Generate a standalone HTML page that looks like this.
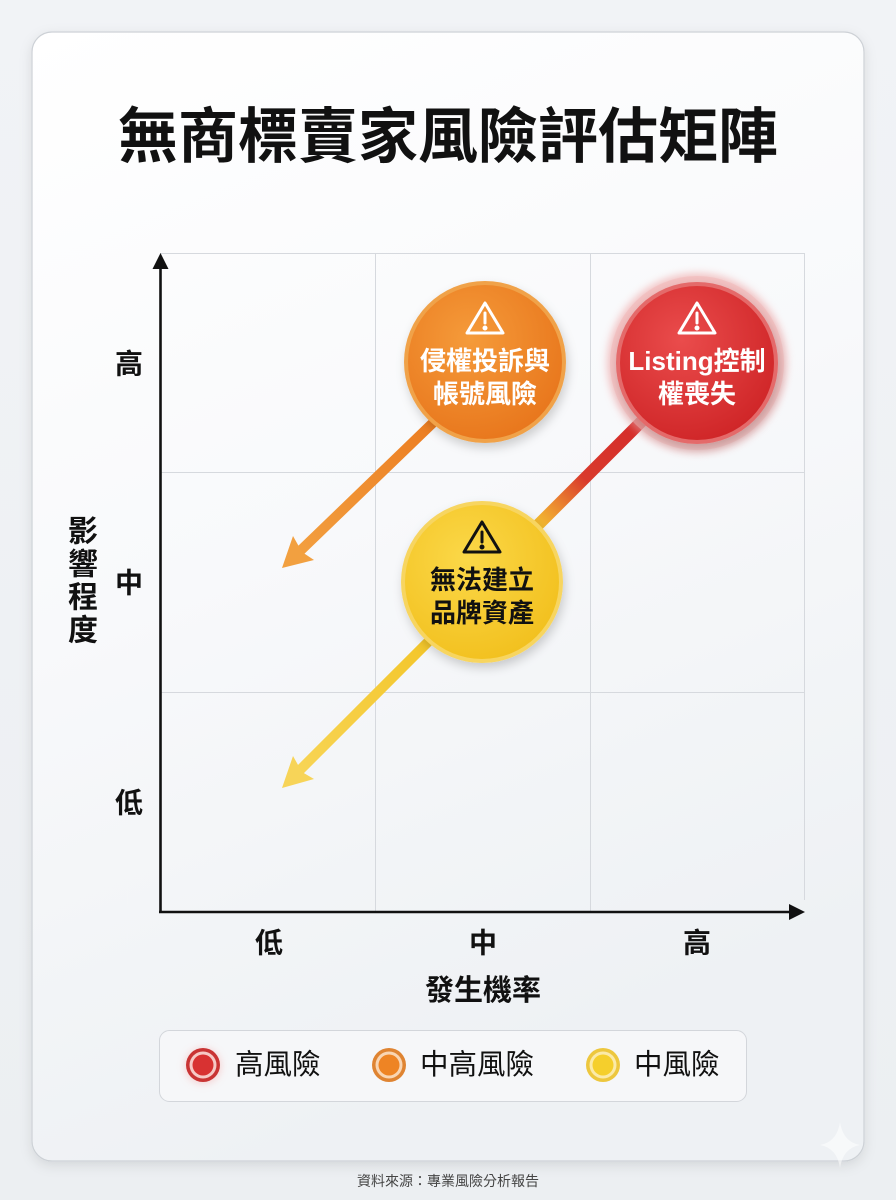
<!DOCTYPE html>
<html><head><meta charset="utf-8">
<style>
html,body{margin:0;padding:0;width:896px;height:1200px;overflow:hidden;background:#eef1f4;}
svg{display:block;}
text{font-family:"Liberation Sans","Noto Sans CJK TC","Noto Sans CJK SC",sans-serif;}
</style></head><body>
<svg width="896" height="1200" viewBox="0 0 896 1200" xmlns="http://www.w3.org/2000/svg">
<defs>
  <linearGradient id="bg" x1="0" y1="0" x2="0" y2="1">
    <stop offset="0" stop-color="#f1f3f6"/><stop offset="1" stop-color="#eceff2"/>
  </linearGradient>
  <linearGradient id="card" x1="0" y1="0" x2="0.3" y2="1">
    <stop offset="0" stop-color="#ffffff"/><stop offset="0.5" stop-color="#f8f9fb"/><stop offset="1" stop-color="#eef1f4"/>
  </linearGradient>
  <filter id="cs" x="-10%" y="-10%" width="120%" height="120%">
    <feDropShadow dx="0" dy="4" stdDeviation="6" flood-color="#000" flood-opacity="0.10"/>
  </filter>
  <filter id="bs" x="-30%" y="-30%" width="160%" height="160%">
    <feDropShadow dx="2" dy="5" stdDeviation="5" flood-color="#000" flood-opacity="0.18"/>
  </filter>
  <filter id="glow" x="-40%" y="-40%" width="180%" height="180%">
    <feGaussianBlur stdDeviation="4"/>
  </filter>
  <radialGradient id="gOr" cx="0.4" cy="0.35" r="0.7">
    <stop offset="0" stop-color="#f59b3a"/><stop offset="1" stop-color="#e8761c"/>
  </radialGradient>
  <radialGradient id="gRd" cx="0.4" cy="0.35" r="0.7">
    <stop offset="0" stop-color="#ea4c4c"/><stop offset="1" stop-color="#cf2527"/>
  </radialGradient>
  <radialGradient id="gYl" cx="0.4" cy="0.35" r="0.7">
    <stop offset="0" stop-color="#fbd848"/><stop offset="1" stop-color="#f2c01e"/>
  </radialGradient>
  <linearGradient id="aOr" x1="430" y1="425" x2="282" y2="568" gradientUnits="userSpaceOnUse">
    <stop offset="0" stop-color="#ec7e22"/><stop offset="1" stop-color="#f3a343"/>
  </linearGradient>
  <linearGradient id="aYl" x1="430" y1="640" x2="282" y2="788" gradientUnits="userSpaceOnUse">
    <stop offset="0" stop-color="#f3c62a"/><stop offset="1" stop-color="#f8d65a"/>
  </linearGradient>
  <linearGradient id="aRd" x1="645" y1="418" x2="535" y2="528" gradientUnits="userSpaceOnUse">
    <stop offset="0" stop-color="#d42a2a"/><stop offset="0.55" stop-color="#d93a2c"/><stop offset="0.8" stop-color="#eb8a30"/><stop offset="1" stop-color="#f5c530"/>
  </linearGradient>
</defs>

<rect x="0" y="0" width="896" height="1200" fill="url(#bg)"/>
<rect x="32" y="32" width="832" height="1129" rx="20" fill="url(#card)" stroke="#cdd1d6" stroke-width="1.2" filter="url(#cs)"/>

<!-- title -->
<text x="448" y="137" font-size="60" font-weight="700" fill="#111" text-anchor="middle" dominant-baseline="central">無商標賣家風險評估矩陣</text>

<!-- grid -->
<g stroke="#d6d9de" stroke-width="1">
  <line x1="160" y1="253.5" x2="804" y2="253.5"/>
  <line x1="160" y1="472.5" x2="804" y2="472.5"/>
  <line x1="160" y1="692.5" x2="804" y2="692.5"/>
  <line x1="375.5" y1="253" x2="375.5" y2="912"/>
  <line x1="590.5" y1="253" x2="590.5" y2="912"/>
  <line x1="804.5" y1="253" x2="804.5" y2="900"/>
</g>
<!-- axes -->
<g stroke="#111" stroke-width="2.6" fill="none">
  <line x1="160.5" y1="266" x2="160.5" y2="913"/>
  <line x1="159" y1="912" x2="792" y2="912"/>
</g>
<polygon points="160.5,253 152.5,269 168.5,269" fill="#111"/>
<polygon points="805,912 789,904 789,920" fill="#111"/>

<!-- tick labels -->
<g font-size="28" font-weight="700" fill="#111" text-anchor="middle" dominant-baseline="central">
  <text x="129" y="364">高</text>
  <text x="129" y="583">中</text>
  <text x="129" y="803">低</text>
  <text x="269" y="943">低</text>
  <text x="483" y="943">中</text>
  <text x="697" y="943">高</text>
</g>
<text x="483" y="991" font-size="29" font-weight="700" fill="#111" text-anchor="middle" dominant-baseline="central">發生機率</text>
<g font-size="30" font-weight="700" fill="#111" text-anchor="middle" dominant-baseline="central">
  <text x="83" y="532">影</text>
  <text x="83" y="565">響</text>
  <text x="83" y="598">程</text>
  <text x="83" y="631">度</text>
</g>

<!-- arrows -->
<line x1="440" y1="416" x2="298" y2="553" stroke="url(#aOr)" stroke-width="10"/>
<polygon points="282,568 314,560 302,552 293,536" fill="#f2a040"/>
<line x1="440" y1="630" x2="298" y2="772" stroke="url(#aYl)" stroke-width="10"/>
<polygon points="282,788 314,779 302,772 293,756" fill="#f7d458"/>
<line x1="645" y1="418" x2="530" y2="533" stroke="url(#aRd)" stroke-width="12"/>

<!-- orange bubble -->
<circle cx="485" cy="362" r="81" fill="#f0a24a" filter="url(#bs)"/>
<circle cx="485" cy="362" r="77" fill="url(#gOr)"/>
<g transform="translate(485,318)" fill="none" stroke="#fff" stroke-width="3" stroke-linejoin="round">
  <path d="M0,-15 L18,15 L-18,15 Z"/>
  <line x1="0" y1="-5" x2="0" y2="5" stroke-linecap="round"/>
  <circle cx="0" cy="10" r="1" fill="#fff"/>
</g>
<g font-size="26" font-weight="700" fill="#fff" text-anchor="middle" dominant-baseline="central">
  <text x="485" y="361">侵權投訴與</text>
  <text x="485" y="394">帳號風險</text>
</g>

<!-- red bubble -->
<circle cx="697" cy="363" r="90" fill="#eea0a0" opacity="0.6" filter="url(#glow)"/>
<circle cx="697" cy="363" r="87" fill="#f2b8b8" opacity="0.5"/>
<circle cx="697" cy="363" r="81" fill="#e46a6a" filter="url(#bs)"/>
<circle cx="697" cy="363" r="77" fill="url(#gRd)"/>
<g transform="translate(697,318)" fill="none" stroke="#fff" stroke-width="3" stroke-linejoin="round">
  <path d="M0,-15 L18,15 L-18,15 Z"/>
  <line x1="0" y1="-5" x2="0" y2="5" stroke-linecap="round"/>
  <circle cx="0" cy="10" r="1" fill="#fff"/>
</g>
<g font-size="26" font-weight="700" fill="#fff" text-anchor="middle" dominant-baseline="central">
  <text x="697" y="361">Listing控制</text>
  <text x="697" y="394">權喪失</text>
</g>

<!-- yellow bubble -->
<circle cx="482" cy="582" r="81" fill="#f7d560" filter="url(#bs)"/>
<circle cx="482" cy="582" r="77" fill="url(#gYl)"/>
<g transform="translate(482,537)" fill="none" stroke="#111" stroke-width="3" stroke-linejoin="round">
  <path d="M0,-15 L18,15 L-18,15 Z"/>
  <line x1="0" y1="-5" x2="0" y2="5" stroke-linecap="round"/>
  <circle cx="0" cy="10" r="1" fill="#111"/>
</g>
<g font-size="26" font-weight="700" fill="#111" text-anchor="middle" dominant-baseline="central">
  <text x="482" y="580">無法建立</text>
  <text x="482" y="613">品牌資產</text>
</g>

<!-- legend -->
<rect x="159.5" y="1030.5" width="587" height="71" rx="10" fill="#f6f7f9" stroke="#d3d6db" stroke-width="1"/>
<g>
  <circle cx="203" cy="1066" r="18" fill="#f4b8b8" opacity="0.6" filter="url(#glow)"/>
  <circle cx="203" cy="1065" r="17" fill="#c93434"/>
  <circle cx="203" cy="1065" r="13.5" fill="#f6c9c6"/>
  <circle cx="203" cy="1065" r="10.5" fill="#d83232"/>
  <circle cx="389" cy="1065" r="17" fill="#df8432"/>
  <circle cx="389" cy="1065" r="13.5" fill="#f9d5b2"/>
  <circle cx="389" cy="1065" r="10.5" fill="#ee8424"/>
  <circle cx="603" cy="1065" r="17" fill="#edc73e"/>
  <circle cx="603" cy="1065" r="13.5" fill="#fbeaa8"/>
  <circle cx="603" cy="1065" r="10.5" fill="#f5cf2c"/>
</g>
<g font-size="28.5" font-weight="400" fill="#111" dominant-baseline="central">
  <text x="235" y="1065">高風險</text>
  <text x="420" y="1065">中高風險</text>
  <text x="634" y="1065">中風險</text>
</g>

<!-- sparkle -->
<path d="M840,1122 Q843,1142 860,1145 Q843,1148 840,1168 Q837,1148 820,1145 Q837,1142 840,1122 Z" fill="#ffffff" opacity="0.55"/>

<text x="448" y="1181" font-size="14" fill="#444" text-anchor="middle" dominant-baseline="central">資料來源：專業風險分析報告</text>
</svg>
</body></html>
